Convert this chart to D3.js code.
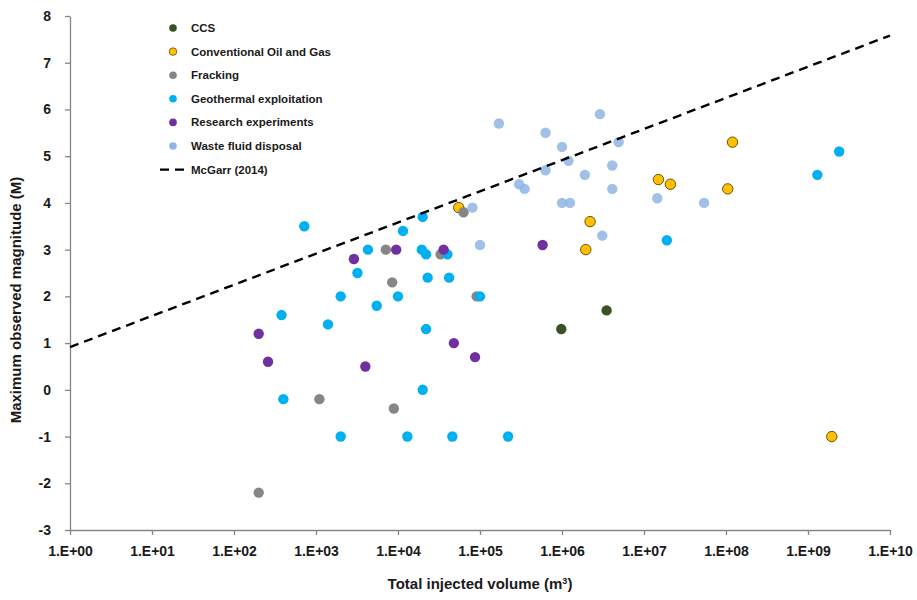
<!DOCTYPE html>
<html>
<head>
<meta charset="utf-8">
<script src="https://cdn.jsdelivr.net/npm/d3@7"></script>
<style>
body{margin:0;background:#fff;}
text{font-family:"Liberation Sans",Arial,sans-serif;font-weight:bold;}
</style>
</head>
<body>
<svg id="chart" width="917" height="600"></svg>
<script>
// ---- data: [total injected volume (m3), max observed magnitude] ----
const ccs = [[9.8e5,1.3],[3.5e6,1.7]];
const conventional = [[5.5e4,3.9],[2.2e6,3.6],[1.95e6,3.0],[1.5e7,4.5],[2.1e7,4.4],[1.05e8,4.3],[1.2e8,5.3],[1.95e9,-1.0]];
const fracking = [[7.1e3,3.0],[6.3e4,3.8],[8.5e3,2.3],[9.1e4,2.0],[1.1e3,-0.2],[8.9e3,-0.4],[200,-2.2],[3.3e4,2.9]];
const geothermal = [[720,3.5],[2.0e4,3.7],[1.15e4,3.4],[4.3e3,3.0],[1.95e4,3.0],[2.2e4,2.9],[4.0e4,2.9],[3.2e3,2.5],
  [2.3e4,2.4],[4.2e4,2.4],[2.0e3,2.0],[1.0e4,2.0],[1.0e5,2.0],[5.5e3,1.8],[380,1.6],[1.4e3,1.4],[2.2e4,1.3],
  [2.0e4,0.0],[400,-0.2],[2.0e3,-1.0],[1.3e4,-1.0],[4.6e4,-1.0],[2.2e5,-1.0],[1.9e7,3.2],[1.3e9,4.6],[2.4e9,5.1]];
const research = [[2.9e3,2.8],[9.5e3,3.0],[3.6e4,3.0],[5.8e5,3.1],[200,1.2],[4.8e4,1.0],[8.7e4,0.7],[260,0.6],[4.0e3,0.5]];
const waste = [[1.7e5,5.7],[2.9e6,5.9],[6.3e5,5.5],[1.0e6,5.2],[4.9e6,5.3],[1.2e6,4.9],[4.1e6,4.8],[6.3e5,4.7],
  [1.9e6,4.6],[4.1e6,4.3],[3.0e5,4.4],[3.5e5,4.3],[1.0e6,4.0],[1.25e6,4.0],[1.45e7,4.1],[5.4e7,4.0],[3.1e6,3.3],
  [1.0e5,3.1],[8.1e4,3.9]];
// McGarr (2014): Mmax = (2/3)·log10(G·ΔV) − 6.07 with G = 3e10 Pa
const mcgarrVolumes = [1, 1e10];
const xTickValues = [1,1e1,1e2,1e3,1e4,1e5,1e6,1e7,1e8,1e9,1e10];
const xTickLabels = ["1.E+00","1.E+01","1.E+02","1.E+03","1.E+04","1.E+05","1.E+06","1.E+07","1.E+08","1.E+09","1.E+10"];
const yTickValues = [-3,-2,-1,0,1,2,3,4,5,6,7,8];
const seriesNames = ["CCS","Conventional Oil and Gas","Fracking","Geothermal exploitation","Research experiments","Waste fluid disposal"];
const seriesData = [ccs, conventional, fracking, geothermal, research, waste];
const seriesColors = ["#3b5226","#ffc000","#868686","#00b0f0","#7030a0","#8fb5e3"];

const svg = d3.select("#chart");
const x = d3.scaleLog().domain([1,1e10]).range([70,890]);
const y = d3.scaleLinear().domain([-3,8]).range([530,16]);

const xAxis = svg.append("g").attr("transform","translate(0,530)")
  .call(d3.axisBottom(x).tickValues(xTickValues).tickFormat((d,i)=>xTickLabels[i]).tickSize(5).tickSizeOuter(0));
const yAxis = svg.append("g").attr("transform","translate(70,0)")
  .call(d3.axisLeft(y).tickValues(yTickValues).tickFormat(d=>String(d)).tickSize(5).tickSizeOuter(0));
[xAxis,yAxis].forEach(a=>{
  a.select(".domain").attr("stroke","#868686").attr("stroke-width",1.3);
  a.selectAll(".tick line").attr("stroke","#868686").attr("stroke-width",1.3);
  a.selectAll(".tick text").attr("fill","#1a1a1a").attr("font-size",14).attr("font-weight","bold")
    .attr("font-family","'Liberation Sans',Arial,sans-serif");
});
xAxis.selectAll(".tick text").attr("dy","1.25em");
yAxis.selectAll(".tick text").attr("x",-19);

// points
seriesData.forEach((data,i)=>{
  svg.append("g").selectAll("circle").data(data).join("circle")
    .attr("cx",d=>x(d[0])).attr("cy",d=>y(d[1])).attr("r",5.2)
    .attr("fill",seriesColors[i])
    .attr("fill-opacity", i===5 ? 0.85 : 1)
    .attr("stroke", i===1 ? "#6b5200" : "none").attr("stroke-width",1);
});

// McGarr line
const mcgarr = v => (2/3)*Math.log10(3e10*v) - 6.07;
svg.append("path")
  .datum(mcgarrVolumes)
  .attr("d", d3.line().x(v=>x(v)).y(v=>y(mcgarr(v))))
  .attr("stroke","#000").attr("stroke-width",2.4).attr("stroke-dasharray","9,6").attr("fill","none");

// legend
const lg = svg.append("g");
seriesNames.forEach((n,i)=>{
  const yy = 28 + i*23.6;
  lg.append("circle").attr("cx",173).attr("cy",yy).attr("r",3.8)
    .attr("fill",seriesColors[i]).attr("stroke", i===1 ? "#6b5200":"none").attr("stroke-width",0.8);
  lg.append("text").attr("x",191).attr("y",yy).attr("dy","0.35em").attr("font-size",11.5).attr("fill","#1a1a1a").text(n);
});
const ly = 28 + 6*23.6;
lg.append("line").attr("x1",160).attr("x2",185).attr("y1",ly).attr("y2",ly)
  .attr("stroke","#000").attr("stroke-width",2.4).attr("stroke-dasharray","9,6");
lg.append("text").attr("x",191).attr("y",ly).attr("dy","0.35em").attr("font-size",11.5).attr("fill","#1a1a1a").text("McGarr (2014)");

// axis titles
svg.append("text").attr("x",480).attr("y",589).attr("text-anchor","middle").attr("font-size",15).attr("fill","#1a1a1a")
  .html('Total injected volume (m<tspan baseline-shift="super" font-size="9">3</tspan>)');
svg.append("text").attr("transform","translate(21,300) rotate(-90)").attr("text-anchor","middle").attr("font-size",15).attr("fill","#1a1a1a")
  .text("Maximum observed magnitude (M)");
</script>
</body>
</html>
